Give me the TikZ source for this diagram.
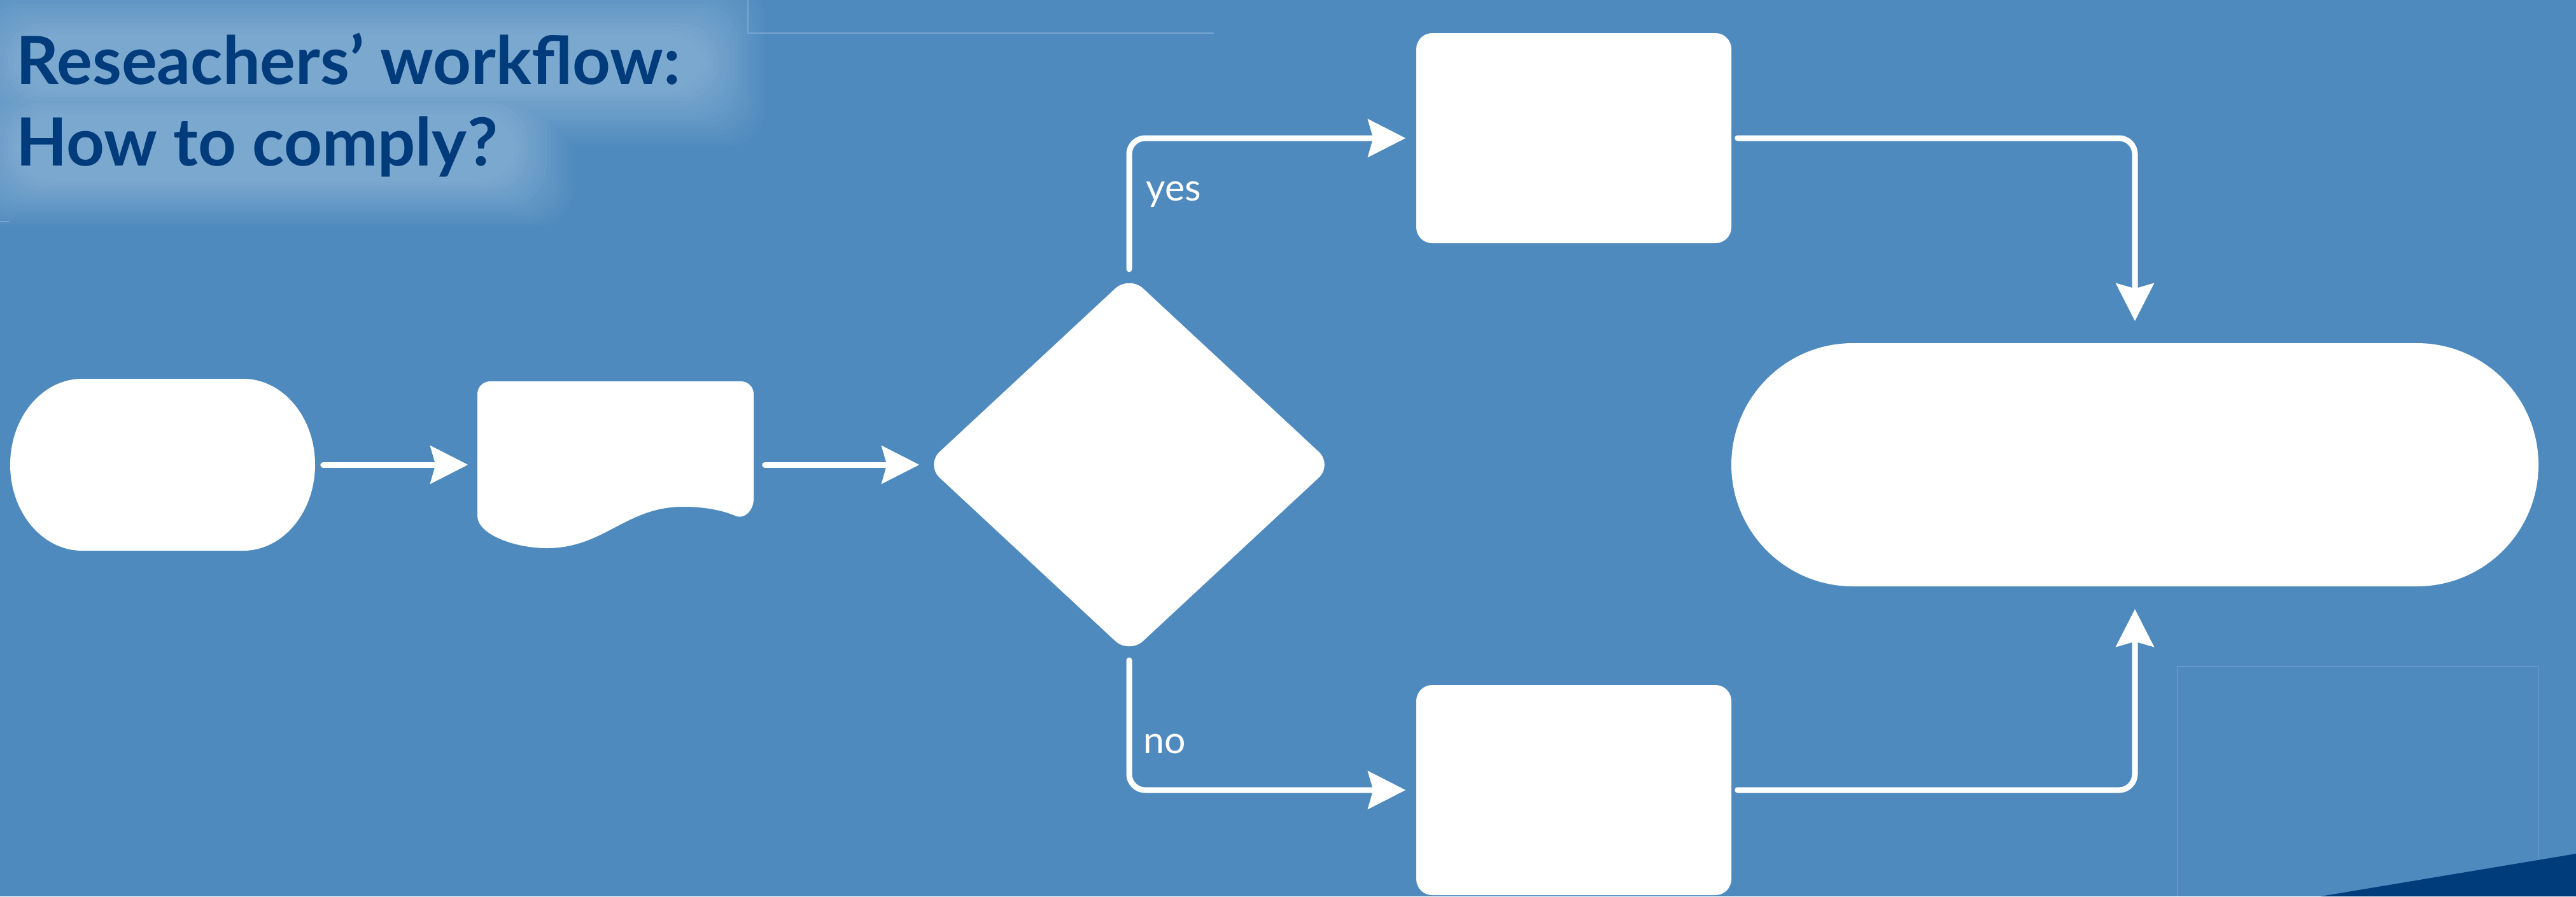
\documentclass[tikz,border=0pt]{standalone}
\usepackage{fontspec}
\setmainfont{Lato}
\usetikzlibrary{shapes.geometric,shapes.misc,arrows.meta}
\definecolor{bg}{HTML}{4E8ABE}
\definecolor{navy}{HTML}{003B7B}
\definecolor{faint}{HTML}{78A5D1}
\begin{document}
\begin{tikzpicture}[>={Stealth[length=0.59cm,width=0.59cm,inset=0.08cm]},
    box/.style={rectangle, fill=white, rounded corners=0.25cm, minimum width=4.95cm, minimum height=3.30cm, inner sep=0},
    holder/.style={rectangle, inner sep=0},
    flow/.style={->, draw=white, line width=0.09cm, line cap=round, rounded corners=0.25cm},
    lbl/.style={white, inner sep=0, anchor=base west, font=\fontsize{16.8}{20}\selectfont},
    ttl/.style={navy, inner sep=0, anchor=base west, font=\fontsize{29.7}{36}\selectfont\bfseries}]
    \path[use as bounding box] (0,0) rectangle (40.47,-14.08);
    \clip (0,0) rectangle (40.47,-14.08);
    \fill[bg] (0,0) rectangle (40.47,-14.08);

    % glow behind the title
    \foreach \g in {1,...,16}
    {
        \pgfmathsetmacro\e{0.06*(17-\g)}
        \pgfmathsetmacro\p{1.6*\g}
        \fill[white!\p!bg, rounded corners=0.6cm] (0.30-\e,-0.60+\e) rectangle (11.05+\e,-1.35-\e);
        \fill[white!\p!bg, rounded corners=0.6cm] (0.30-\e,-1.85+\e) rectangle (8.05+\e,-2.80-0.8*\e);
    }
    \node[ttl] (title1) at (0.25,-1.32) {Reseachers’ workflow:};
    \node[ttl] (title2) at (0.25,-2.60) {How to comply?};

    \draw[faint, line width=0.02cm] (11.75,0)--(11.75,-0.52)--(19.07,-0.52);
    \draw[faint, line width=0.01cm] (34.20,-14.08)--(34.20,-10.46)--(39.87,-10.46)--(39.87,-14.08);
    \draw[faint, line width=0.02cm] (0,-3.48)--(0.15,-3.48);
    \fill[navy] (36.46,-14.08)--(40.47,-13.41)--(40.47,-14.08)--cycle;

    \node[holder, minimum width=4.79cm, minimum height=2.70cm] (start) at (2.555,-7.30) {};
    \fill[white] (1.29,-5.95)--(3.82,-5.95) arc[start angle=90, end angle=-90, x radius=1.13, y radius=1.35]
        --(1.29,-8.65) arc[start angle=270, end angle=90, x radius=1.13, y radius=1.35]--cycle;

    \node[holder, minimum width=4.34cm, minimum height=2.62cm] (doc) at (9.67,-7.30) {};
    \fill[white] (7.50,-8.10)--(7.50,-6.19) arc[start angle=180, end angle=90, radius=0.2]
        --(11.64,-5.99) arc[start angle=90, end angle=0, radius=0.2]--(11.84,-7.83)
        .. controls (11.84,-8.02) and (11.70,-8.15) .. (11.57,-8.11)
        .. controls (11.35,-8.01) and (11.05,-7.96) .. (10.73,-7.96)
        .. controls (9.83,-7.96) and (9.49,-8.61) .. (8.59,-8.61)
        .. controls (8.10,-8.61) and (7.50,-8.40) .. cycle;

    \node[diamond, fill=white, inner sep=0, minimum width=6.40cm, minimum height=5.95cm, rounded corners=0.3cm] (dec) at (17.74,-7.30) {};
    \node[box] (yesbox) at (24.725,-2.17) {};
    \node[box] (nobox) at (24.725,-12.41) {};
    \node[rounded rectangle, fill=white, inner sep=0, minimum width=12.68cm, minimum height=3.82cm] (term) at (33.54,-7.30) {};

    \draw[flow, shorten <=0.12cm, shorten >=0.14cm] (start)--(doc);
    \draw[flow, shorten <=0.17cm, shorten >=0.09cm] (doc)--(dec);
    \draw[flow, shorten <=0.09cm, shorten >=0.16cm] (dec.north) |- (yesbox.west);
    \draw[flow, shorten <=0.09cm, shorten >=0.16cm] (dec.south) |- (nobox.west);
    \draw[flow, shorten <=0.09cm, shorten >=0.34cm] (yesbox.east) -| (term.north);
    \draw[flow, shorten <=0.09cm, shorten >=0.35cm] (nobox.east) -| (term.south);

    \node[lbl] (yes) at (18.00,-3.15) {yes};
    \node[lbl] (no) at (17.96,-11.83) {no};
\end{tikzpicture}
\end{document}
